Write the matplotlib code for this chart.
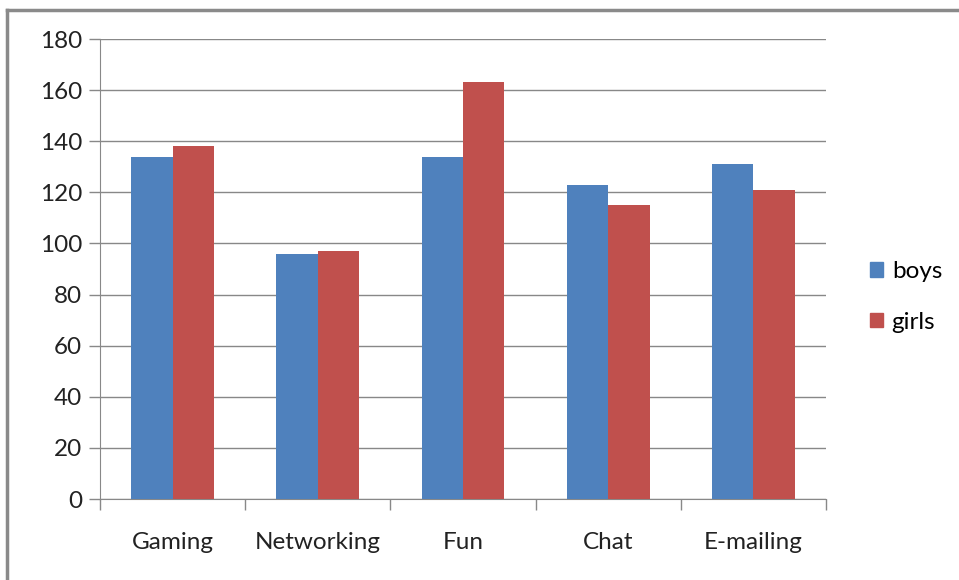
import numpy as np
import matplotlib
matplotlib.use('Agg')
import matplotlib.pyplot as plt
from matplotlib.lines import Line2D

plt.rcParams['font.family'] = ['Lato', 'DejaVu Sans']

categories = ['Gaming', 'Networking', 'Fun', 'Chat', 'E-mailing']
boys = [134, 96, 134, 123, 131]
girls = [138, 97, 163, 115, 121]
yticks = [0, 20, 40, 60, 80, 100, 120, 140, 160, 180]

blue = '#4f81bd'
red = '#c0504d'
grid_gray = '#888888'
fs = 17.5

fig = plt.figure(figsize=(9.59, 5.8), dpi=100)
ax = fig.add_axes([100 / 959, 81 / 580, 726 / 959, 460 / 580])

x = np.arange(len(categories))
w = 0.285
ax.bar(x - w / 2, boys, width=w, color=blue, label='boys', zorder=3)
ax.bar(x + w / 2, girls, width=w, color=red, label='girls', zorder=3)

ax.set_xlim(-0.5, len(categories) - 0.5)
ax.set_ylim(0, 180)
ax.set_yticks(yticks)
ax.yaxis.grid(True, color=grid_gray, linewidth=1, zorder=0)

# category boundary ticks below the axis
ax.set_xticks(np.arange(-0.5, len(categories)), minor=False)
ax.set_xticklabels([])
ax.set_xticks(x, minor=True)
ax.set_xticklabels(categories, minor=True, fontsize=fs, color='#222222')
ax.tick_params(axis='x', which='major', length=8, color=grid_gray, width=1)
ax.tick_params(axis='x', which='minor', length=0, pad=24)
ax.tick_params(axis='y', length=8, color=grid_gray, width=1,
               labelsize=fs, labelcolor='#222222', pad=5)

for side in ['top', 'right']:
    ax.spines[side].set_visible(False)
ax.spines['left'].set_color(grid_gray)
ax.spines['bottom'].set_color(grid_gray)

handles = [plt.Rectangle((0, 0), 1, 1, color=blue),
           plt.Rectangle((0, 0), 1, 1, color=red)]
fig.legend(handles, ['boys', 'girls'], loc='center left',
           bbox_to_anchor=(848 / 959, 1 - 297 / 580), frameon=False,
           fontsize=fs, handlelength=0.55, handleheight=0.55,
           handletextpad=0.35, labelspacing=1.2)

# outer frame: top and left edges
fig.add_artist(Line2D([7 / 959, 1], [1 - 10 / 580] * 2, transform=fig.transFigure,
                      color='#8a8a8a', linewidth=2.5))
fig.add_artist(Line2D([7 / 959] * 2, [0, 1 - 10 / 580], transform=fig.transFigure,
                      color='#8a8a8a', linewidth=2.5))

fig.savefig('out.png', dpi=100)
